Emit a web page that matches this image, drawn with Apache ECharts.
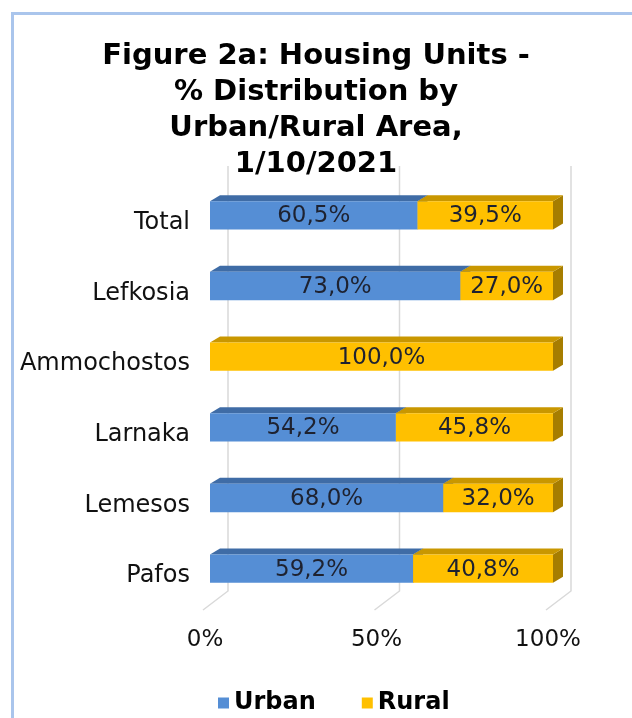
<!DOCTYPE html>
<html>
<head>
<meta charset="utf-8">
<script src="https://cdn.jsdelivr.net/npm/echarts@6/dist/echarts.min.js"></script>
<style>
  html, body { margin: 0; padding: 0; background: #fff; }
  #main { width: 632px; height: 718px; }
</style>
</head>
<body>
<div id="main"></div>
<script>
  // data
  var categories = ['Total', 'Lefkosia', 'Ammochostos', 'Larnaka', 'Lemesos', 'Pafos'];
  var urban = [60.5, 73.0, 0, 54.2, 68.0, 59.2];
  var rural = [39.5, 27.0, 100.0, 45.8, 32.0, 40.8];
  var ticks = [0, 50, 100];

  var FONT = 'DejaVu Sans, Verdana, sans-serif';
  var DX = 10, DY = 6; // bar depth

  function fmt(v) {
    return v.toFixed(1).replace('.', ',') + '%';
  }

  // build [category, start, end, value] rows
  var urbanData = urban.map(function (u, i) { return [i, 0, u, u]; });
  var ruralData = rural.map(function (r, i) { return [i, urban[i], urban[i] + r, r]; });

  function barRenderer(front, top, side) {
    return function (params, api) {
      var val = api.value(3);
      if (!val) return null;
      var s = api.coord([api.value(1), api.value(0)]);
      var e = api.coord([api.value(2), api.value(0)]);
      var h = api.size([0, 1])[1] * 0.4;
      var x0 = s[0], x1 = e[0];
      var yT = s[1] - h / 2, yB = s[1] + h / 2;
      return {
        type: 'group',
        children: [
          { type: 'polygon', shape: { points: [[x1, yT], [x1 + DX, yT - DY], [x1 + DX, yB - DY], [x1, yB]] },
            style: { fill: side } },
          { type: 'polygon', shape: { points: [[x0, yT], [x0 + DX, yT - DY], [x1 + DX, yT - DY], [x1, yT]] },
            style: { fill: top } },
          { type: 'rect', shape: { x: x0, y: yT, width: x1 - x0, height: h },
            style: { fill: front } },
          { type: 'text', x: (x0 + x1) / 2, y: s[1] + 1,
            style: { text: fmt(val), fill: '#1e2230', font: '23px ' + FONT, align: 'center', verticalAlign: 'middle' } }
        ]
      };
    };
  }

  var myChart = echarts.init(document.getElementById('main'));
  myChart.setOption({
    animation: false,
    title: {
      text: 'Figure 2a: Housing Units -\n% Distribution by\nUrban/Rural Area,\n1/10/2021',
      left: 'center',
      top: 33,
      textStyle: { fontFamily: FONT, fontSize: 29, fontWeight: 'bold', lineHeight: 36, color: '#000' }
    },
    graphic: [{
      type: 'rect', left: 10, top: 11, silent: true,
      shape: { width: 640, height: 720 },
      style: { fill: 'none', stroke: '#aac5ec', lineWidth: 3 }
    }],
    legend: {
      left: 213,
      top: 686,
      itemWidth: 11,
      itemHeight: 11,
      itemGap: 46,
      icon: 'rect',
      textStyle: { fontFamily: FONT, fontSize: 24, fontWeight: 'bold', color: '#000' },
      data: ['Urban', 'Rural']
    },
    grid: { left: 210, right: 79, top: 180, bottom: 114 },
    xAxis: {
      type: 'value',
      min: 0, max: 100, interval: 50,
      axisLine: { show: false },
      axisTick: { show: false },
      splitLine: { show: false },
      axisLabel: {
        formatter: '{value}%',
        fontFamily: FONT, fontSize: 23, color: '#111',
        margin: 25,
        padding: [0, 10, 0, 0]
      }
    },
    yAxis: {
      type: 'category',
      inverse: true,
      data: categories,
      axisLine: { show: false },
      axisTick: { show: false },
      axisLabel: {
        fontFamily: FONT, fontSize: 24, color: '#111',
        margin: 20,
        verticalAlign: 'top',
        lineHeight: 15
      }
    },
    series: [
      {
        type: 'custom',
        name: 'grid',
        silent: true,
        z: 1,
        data: ticks.map(function (t) { return [t]; }),
        renderItem: function (params, api) {
          var cs = params.coordSys;
          var x = api.coord([api.value(0), 0])[0] + 18;
          var yTop = cs.y - 14;
          var yBot = cs.y + cs.height - 13;
          return {
            type: 'polyline',
            shape: { points: [[x, yTop], [x, yBot], [x - 25, yBot + 19]] },
            style: { stroke: '#d9d9d9', lineWidth: 1.5, fill: 'none' }
          };
        }
      },
      {
        type: 'custom',
        name: 'Urban',
        z: 2,
        itemStyle: { color: '#558ed5' },
        encode: { x: [1, 2], y: 0 },
        data: urbanData,
        renderItem: barRenderer('#558ed5', '#3f6ca6', '#3a64a0')
      },
      {
        type: 'custom',
        name: 'Rural',
        z: 2,
        itemStyle: { color: '#ffc000' },
        encode: { x: [1, 2], y: 0 },
        data: ruralData,
        renderItem: barRenderer('#ffc000', '#c99700', '#a67d00')
      }
    ]
  });
  window.onresize = myChart.resize;
</script>
</body>
</html>
